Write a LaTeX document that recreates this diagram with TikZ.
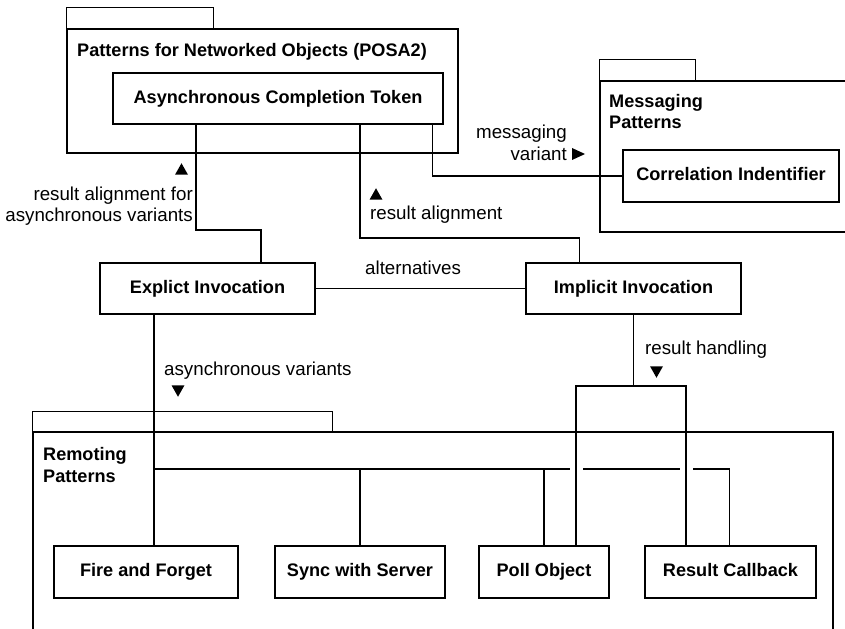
\documentclass[tikz,border=0pt]{standalone}
\usepackage{fontspec}
\setmainfont{Liberation Sans}
\begin{document}
\begin{tikzpicture}[x=1bp,y=-1bp,
  every node/.style={inner sep=0pt, font=\fontsize{18.8}{21.5}\selectfont},
  box/.style={draw, line width=1.3bp, fill=white, font=\fontsize{18.2}{21.5}\selectfont\bfseries, minimum height=51bp, text height=13.5bp, text depth=4bp},
  pkgbody/.style={draw, line width=1.3bp},
  pkgtab/.style={draw, line width=1.3bp},
  ptitle/.style={font=\fontsize{18.2}{21.5}\selectfont\bfseries, align=left, anchor=west},
  lbl/.style={font=\fontsize{18.8}{21.5}\selectfont},
  conn/.style={line width=1.2bp},
  uptri/.pic={\fill (-6.5,5.75) -- (6.5,5.75) -- (0,-5.75) -- cycle;},
  downtri/.pic={\fill (-6.5,-5.75) -- (6.5,-5.75) -- (0,5.75) -- cycle;},
  righttri/.pic={\fill (-6.5,-6) -- (-6.5,6) -- (6.5,0) -- cycle;}]
\useasboundingbox (0,0) rectangle (845,629);

% packages
\node[pkgbody, minimum width=391bp, minimum height=124bp] (posa) at (262.5,91) {};
\draw[pkgtab] (posa.north west) rectangle ++(147,-21);
\node[ptitle] (posat) at (77,52) {Patterns for Networked Objects (POSA2)};

\node[pkgbody, minimum width=255bp, minimum height=151bp] (msg) at (727.5,156.5) {};
\draw[pkgtab] (msg.north west) rectangle ++(96,-20.5);
\node[ptitle] (msgt) at (609,111.5) {Messaging\\Patterns};

\node[pkgbody, minimum width=800bp, minimum height=218bp] (rem) at (433,541) {};
\draw[pkgtab] (rem.north west) rectangle ++(300,-20);
\node[ptitle] (remt) at (43,465) {Remoting\\Patterns};

% boxes
\node[box, minimum width=330bp] (act) at (278,98.5) {Asynchronous Completion Token};
\node[box, minimum width=216bp, minimum height=52bp] (ci) at (731,176) {Correlation Indentifier};
\node[box, minimum width=215bp] (expl) at (207.5,288.5) {Explict Invocation};
\node[box, minimum width=215bp] (impl) at (633.5,288.5) {Implicit Invocation};
\node[box, minimum width=184bp, minimum height=52bp] (ff) at (146,572) {Fire and Forget};
\node[box, minimum width=170bp, minimum height=52bp] (sws) at (360,572) {Sync with Server};
\node[box, minimum width=130bp, minimum height=52bp] (po) at (544,572) {Poll Object};
\node[box, minimum width=171bp, minimum height=52bp] (rc) at (730.5,572) {Result Callback};

% connectors
\draw[conn] (196,0 |- act.south) -- (196,230) -- (261,230) -- (261,0 |- expl.north);
\draw[conn] (360,0 |- act.south) -- (360,238) -- (579.7,238) -- (579.7,0 |- impl.north);
\draw[conn] (432.3,0 |- act.south) |- (ci.west);
\draw[conn] (expl.east) -- (impl.west);
\draw[conn] (154,0 |- expl.south) -- (154,0 |- ff.north);
\draw[conn] (154,469) -- (570,469);
\draw[conn] (583,469) -- (680,469);
\draw[conn] (693,469) -- (729.5,469) -- (729.5,0 |- rc.north);
\draw[conn] (sws.north |- 0,469) -- (sws.north);
\draw[conn] (po.north |- 0,469) -- (po.north);
\draw[conn] (impl.south) -- (impl.south |- 0,386);
\draw[conn] (576,0 |- po.north) |- (686,386) -- (686,0 |- rc.north);

% labels
\node[lbl, align=right, anchor=east] (l1) at (193,206) {result alignment for\\asynchronous variants};
\pic at (181.5,169) {uptri};
\node[lbl, anchor=west] (l2) at (370,215) {result alignment};
\pic at (376,194) {uptri};
\node[lbl, align=right, anchor=east] (l3) at (567,143) {messaging\\variant};
\pic at (578.5,154) {righttri};
\node[lbl, anchor=west] (l4) at (365,268) {alternatives};
\node[lbl, anchor=west] (l5) at (164,371) {asynchronous variants};
\pic at (178,391) {downtri};
\node[lbl, anchor=west] (l6) at (645,350) {result handling};
\pic at (656.5,372) {downtri};
\end{tikzpicture}
\end{document}
